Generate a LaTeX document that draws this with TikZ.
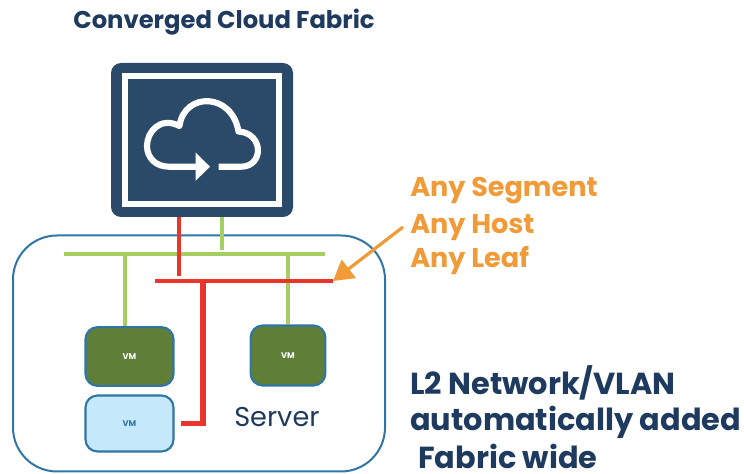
\documentclass[tikz,border=0pt]{standalone}
\usepackage{fontspec}
\setmainfont{Poppins}
\usetikzlibrary{arrows.meta}
\definecolor{navy}{HTML}{2B4A69}
\definecolor{title}{HTML}{1E3A5F}
\definecolor{orng}{HTML}{F09A38}
\definecolor{grn}{HTML}{A6CF63}
\definecolor{vmg}{HTML}{5F7F39}
\definecolor{vmb}{HTML}{C6E8FB}
\definecolor{vmedge}{HTML}{2F76A6}
\definecolor{rd}{HTML}{E9352B}
\tikzset{
  px/.style={x=0.75pt,y=-0.75pt},
  vmbox/.style={draw=vmedge,line width=1.6pt,rounded corners=9pt,inner sep=0pt,font=\bfseries\fontsize{6.2}{7}\selectfont},
  lblo/.style={anchor=base west,inner sep=0pt,text=orng,font=\bfseries\fontsize{20.3}{24}\selectfont},
  lbln/.style={anchor=base west,inner sep=0pt,text=title,font=\bfseries\fontsize{22.8}{27}\selectfont},
  greenline/.style={draw=grn,line width=2.4pt},
  redline/.style={draw=rd,line width=2.6pt},
  redthick/.style={draw=rd,line width=3.8pt},
}
\begin{document}
\begin{tikzpicture}[px]
\useasboundingbox (0,0) rectangle (744,474);
% server
\node[draw=vmedge,line width=1.5pt,rounded corners=33pt,minimum width=279pt,minimum height=177pt,inner sep=0pt] (server) at (199,353.5) {};
% fabric
\node[fill=navy,rounded corners=7.5pt,minimum width=136.5pt,minimum height=115.5pt,inner sep=0pt] (fabric) at (202,140) {};
\node[draw=white,line width=4.5pt,minimum width=115pt,minimum height=95.5pt,inner sep=0pt] (frame) at (202,140) {};
% cloud
\draw[white,line width=4.6pt,line join=round]
  (218.5,166.7) -- (241,166.7)
  .. controls (264,166.7) and (264,133) .. (238.5,131.5)
  .. controls (232,92) and (184,92) .. (179.5,126)
  .. controls (160,116) and (147,132) .. (147,146)
  .. controls (147,158) and (156,166.7) .. (169,166.7)
  -- (198,166.7);
\fill[white] (195.7,152.7) -- (210,166.7) -- (195.7,180.7) -- cycle;
% vms
\node[vmbox,fill=vmg,text=white,minimum width=66pt,minimum height=44pt] (vma) at (129.5,356.5) {VM};
\node[vmbox,fill=vmg,text=white,minimum width=56pt,minimum height=45pt] (vmb) at (288,355.5) {VM};
\node[vmbox,fill=vmb,text=vmedge,minimum width=66pt,minimum height=42pt] (vmc) at (129.5,423.5) {VM};
% junctions
\coordinate (gl) at (64,254);
\coordinate (gr) at (325,254);
\coordinate (gt) at (222,217);
\coordinate (gb) at (222,250);
\coordinate (gva) at (125,254);
\coordinate (gvb) at (288,254);
\coordinate (rt) at (179,217);
\coordinate (rb) at (179,276);
\coordinate (rl) at (155,281);
\coordinate (rr) at (333,281);
\coordinate (rj) at (203,279);
\coordinate (rc) at (203,423.5);
\coordinate (re) at (181,423.5);
\coordinate (as) at (403,227);
% connectors
\draw[greenline] (gl) -- (gr);
\draw[greenline] (gt) -- (gb);
\draw[greenline] (gva) -- (gva |- vma.north);
\draw[greenline] (gvb) -- (vmb.north);
\draw[redline] (rt) -- (rb);
\draw[redline] (rl) -- (rr);
\draw[redthick] (rj) -- (rc) -- (re);
\draw[orng,line width=2.4pt,-{Triangle[length=15pt,width=17pt]}] (as) -- (rr);
% text
\node[anchor=base west,inner sep=0pt,text=title,font=\bfseries\fontsize{18.2}{22}\selectfont] (t) at (73,29) {Converged Cloud Fabric};
\node[lblo] (a1) at (410,197) {Any Segment};
\node[lblo] (a2) at (410,234) {Any Host};
\node[lblo] (a3) at (410,268) {Any Leaf};
\node[lbln] (b1) at (410,395) {L2 Network/VLAN};
\node[lbln] (b2) at (410,431) {automatically added};
\node[lbln] (b3) at (418,469) {Fabric wide};
\node[anchor=base west,inner sep=0pt,text=title,font=\fontsize{20.4}{24}\selectfont] (s) at (234,427) {Server};
\end{tikzpicture}
\end{document}
